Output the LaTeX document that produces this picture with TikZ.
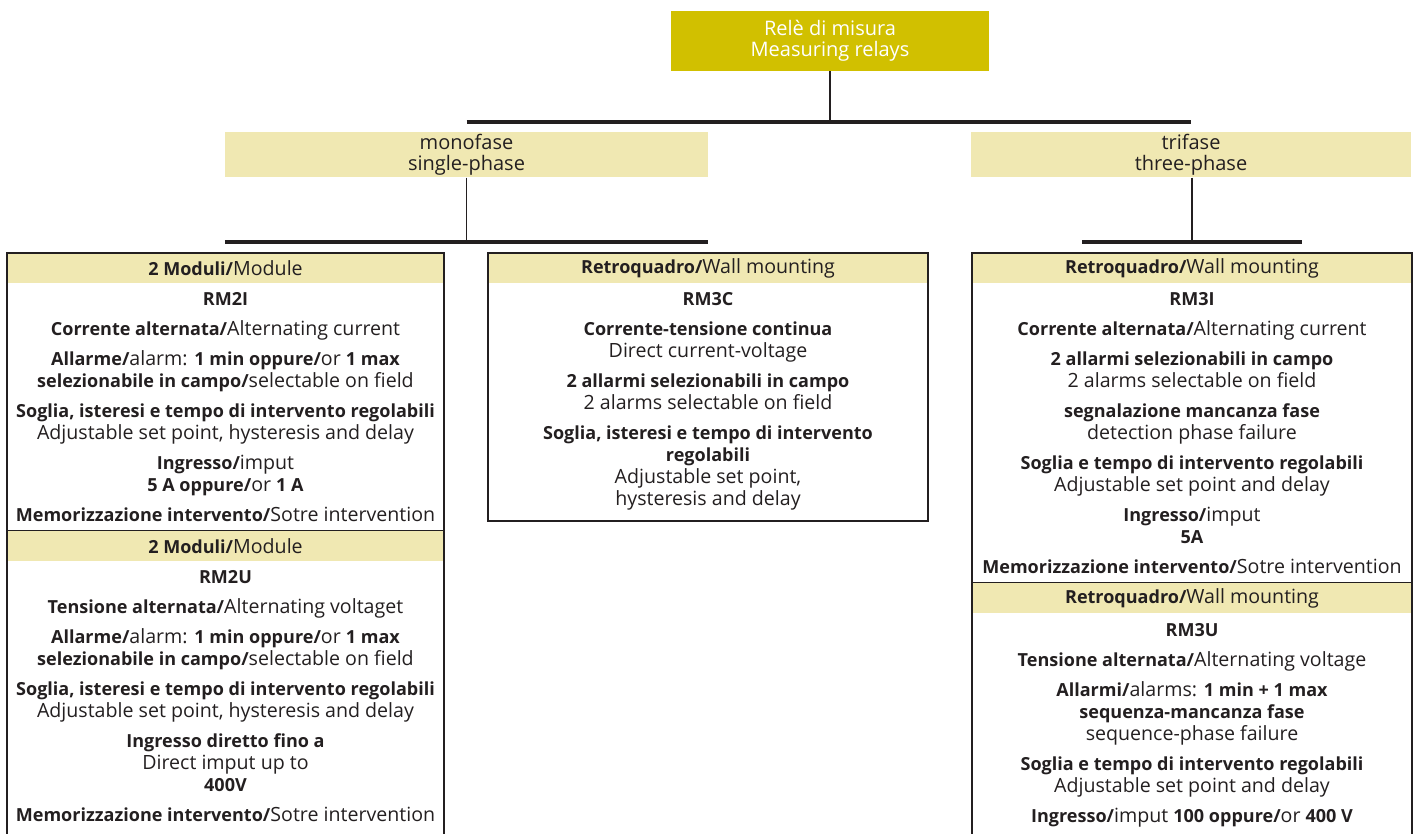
\documentclass[tikz,border=0pt]{standalone}
\usepackage{fontspec}
\setmainfont{Open Sans}[BoldFeatures={Scale=0.92}]
\usetikzlibrary{positioning}
\definecolor{relegold}{RGB}{209,192,0}
\definecolor{phasefill}{RGB}{240,232,178}
\definecolor{inkgray}{RGB}{35,31,32}
\tikzset{
  rele/.style={fill=relegold, text=white, minimum width=318pt, minimum height=60pt,
    inner sep=0pt, align=center, font=\fontsize{20}{21}\selectfont},
  phase/.style={fill=phasefill, text=inkgray, minimum height=45pt, inner sep=0pt,
    align=center, font=\fontsize{20}{21}\selectfont},
  mount/.style={fill=phasefill, text=inkgray, minimum height=30pt, inner sep=0pt,
    font=\fontsize{19.6}{22}\selectfont},
  spec/.style={anchor=north, align=center, inner sep=0pt, text=inkgray,
    font=\fontsize{19.6}{22}\selectfont},
  bar/.style={draw=inkgray, line width=4pt},
  link/.style={draw=inkgray, line width=1.3pt},
  frame/.style={draw=inkgray, line width=1.3pt}
}
\begin{document}
\begin{tikzpicture}[x=1pt, y=-1pt]
\useasboundingbox (0,0) rectangle (1415,834);

% tree head
\node[rele] (rele) at (830,41) {Relè di misura\\Measuring relays};
\coordinate (junction) at (830,122);
\node[phase, minimum width=483pt] (mono) at (466.5,155) {monofase\\single-phase};
\node[phase, minimum width=440pt] (tri) at (1191,155) {trifase\\three-phase};
\coordinate (monojoin) at (466.5,242);
\coordinate (trijoin) at (1192,242);

\draw[link] (rele) -- (junction);
\draw[bar] (mono.center |- junction) -- (tri.center |- junction);
\draw[link] (mono) -- (monojoin);
\draw[bar] (mono.west |- monojoin) -- (mono.east |- monojoin);
\draw[link] (tri.south -| trijoin) -- (trijoin);
\draw[bar] ([xshift=-110pt]trijoin) -- ([xshift=110pt]trijoin);

% headers
\node[mount, minimum width=437pt] (modleft) at (225.5,268) {\textbf{2 Moduli/}Module};
\node[mount, minimum width=437pt] (modleftb) at (225.5,546) {\textbf{2 Moduli/}Module};
\node[mount, minimum width=440pt] (wallmid) at (708,268) {\textbf{Retroquadro/}Wall mounting};
\node[mount, minimum width=440pt] (wallright) at (1192,268) {\textbf{Retroquadro/}Wall mounting};
\node[mount, minimum width=440pt] (wallrightb) at (1192,598) {\textbf{Retroquadro/}Wall mounting};

% frames
\draw[frame] (7,834) -- (7,253) -- (444,253) -- (444,834);
\draw[frame] (modleftb.north west) -- (modleftb.north east);
\draw[frame] (488,253) rectangle (928,521);
\draw[frame] (972,834) -- (972,253) -- (1412,253) -- (1412,834);
\draw[frame] (wallrightb.north west) -- (wallrightb.north east);

% single-phase
\node[spec, below=9pt of modleft] (rmtwoi) {\textbf{RM2I}\\[8pt]
  \textbf{Corrente alternata/}Alternating current\\[8pt]
  \textbf{Allarme/}alarm: \textbf{1 min oppure/}or \textbf{1 max}\\
  \textbf{selezionabile in campo/}selectable on field\\[8pt]
  \textbf{Soglia, isteresi e tempo di intervento regolabili}\\
  Adjustable set point, hysteresis and delay\\[8pt]
  \textbf{Ingresso/}imput\\
  \textbf{5 A oppure/}or \textbf{1 A}\\[8pt]
  \textbf{Memorizzazione intervento/}Sotre intervention};
\node[spec, below=9pt of modleftb] (rmtwou) {\textbf{RM2U}\\[8pt]
  \textbf{Tensione alternata/}Alternating voltaget\\[8pt]
  \textbf{Allarme/}alarm: \textbf{1 min oppure/}or \textbf{1 max}\\
  \textbf{selezionabile in campo/}selectable on field\\[8pt]
  \textbf{Soglia, isteresi e tempo di intervento regolabili}\\
  Adjustable set point, hysteresis and delay\\[8pt]
  \textbf{Ingresso diretto fino a}\\
  Direct imput up to\\
  \textbf{400V}\\[8pt]
  \textbf{Memorizzazione intervento/}Sotre intervention};
\node[spec, below=9pt of wallmid] (rmthreec) {\textbf{RM3C}\\[8pt]
  \textbf{Corrente-tensione continua}\\
  Direct current-voltage\\[8pt]
  \textbf{2 allarmi selezionabili in campo}\\
  2 alarms selectable on field\\[8pt]
  \textbf{Soglia, isteresi e tempo di intervento}\\
  \textbf{regolabili}\\
  Adjustable set point,\\
  hysteresis and delay};

% three-phase
\node[spec, below=9pt of wallright] (rmthreei) {\textbf{RM3I}\\[8pt]
  \textbf{Corrente alternata/}Alternating current\\[8pt]
  \textbf{2 allarmi selezionabili in campo}\\
  2 alarms selectable on field\\[8pt]
  \textbf{segnalazione mancanza fase}\\
  detection phase failure\\[8pt]
  \textbf{Soglia e tempo di intervento regolabili}\\
  Adjustable set point and delay\\[8pt]
  \textbf{Ingresso/}imput\\
  \textbf{5A}\\[8pt]
  \textbf{Memorizzazione intervento/}Sotre intervention};
\node[spec, below=10pt of wallrightb] (rmthreeu) {\textbf{RM3U}\\[8pt]
  \textbf{Tensione alternata/}Alternating voltage\\[8pt]
  \textbf{Allarmi/}alarms: \textbf{1 min + 1 max}\\
  \textbf{sequenza-mancanza fase}\\
  sequence-phase failure\\[8pt]
  \textbf{Soglia e tempo di intervento regolabili}\\
  Adjustable set point and delay\\[8pt]
  \textbf{Ingresso/}imput \textbf{100 oppure/}or \textbf{400 V}};
\end{tikzpicture}
\end{document}
